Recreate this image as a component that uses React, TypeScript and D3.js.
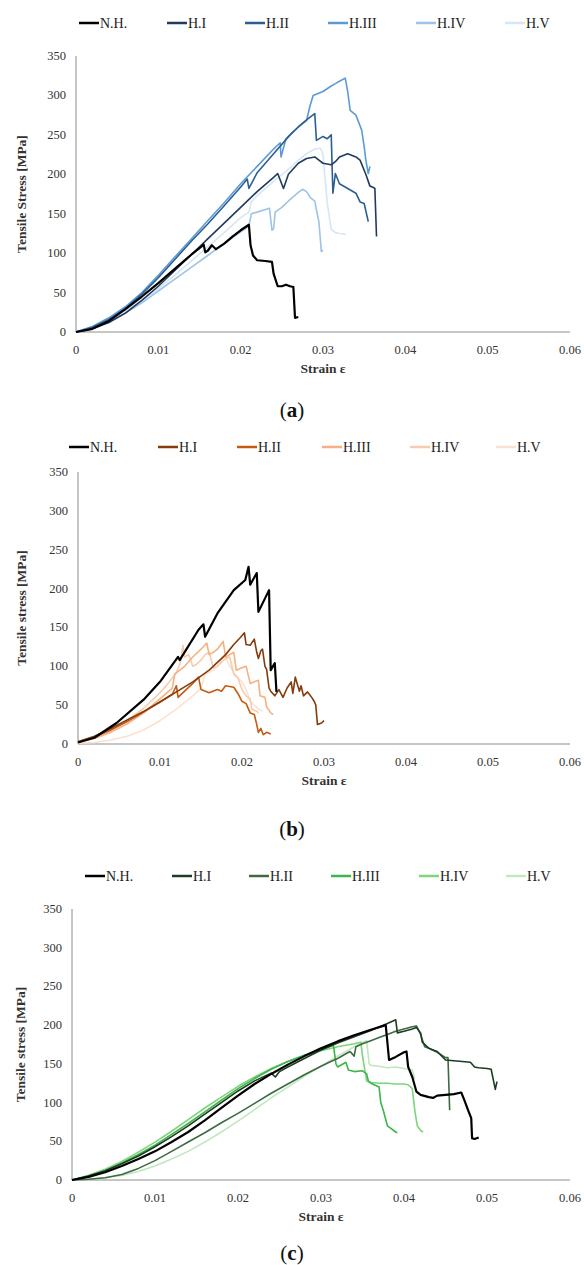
import React from 'react';
import * as d3 from 'd3';

type Pt = [number, number];

const seriesNames = ['N.H.', 'H.I', 'H.II', 'H.III', 'H.IV', 'H.V'];
const yTicks = [0, 50, 100, 150, 200, 250, 300, 350];
const xTicks = [0, 0.01, 0.02, 0.03, 0.04, 0.05, 0.06];
const xTickLabels = ['0', '0.01', '0.02', '0.03', '0.04', '0.05', '0.06'];

const blueColors = ['#000000', '#1f3b5e', '#2b5f94', '#5b9bd5', '#9dc3e6', '#d6e6f5'];
const brownColors = ['#000000', '#843c0c', '#c55a11', '#f4b183', '#f8cbad', '#fbe1d0'];
const greenColors = ['#000000', '#1d3d22', '#3c6b42', '#3cb54a', '#7cd47c', '#bfe8bf'];

// (a) strain, stress
const aNH: Pt[] = [[0,0],[0.002,4],[0.004,14],[0.006,29],[0.008,45],[0.010,62],[0.012,80],[0.014,98],[0.0153,109],[0.0155,111],[0.0157,101],[0.016,103],[0.0165,110],[0.017,105],[0.018,112],[0.019,121],[0.020,129],[0.021,136],[0.0212,110],[0.0215,97],[0.022,91],[0.023,90],[0.0238,89],[0.024,74],[0.0245,58],[0.025,58],[0.0255,60],[0.026,58],[0.0264,57],[0.0266,18],[0.027,19]];
const aH1: Pt[] = [[0,0],[0.002,4],[0.004,12],[0.006,24],[0.008,40],[0.010,58],[0.012,78],[0.014,98],[0.016,118],[0.018,138],[0.020,158],[0.022,178],[0.024,196],[0.0245,201],[0.0252,182],[0.0258,200],[0.027,214],[0.028,220],[0.029,222],[0.0295,218],[0.030,214],[0.031,212],[0.0315,216],[0.032,222],[0.033,226],[0.034,222],[0.0345,218],[0.0352,200],[0.0357,185],[0.036,184],[0.0363,182],[0.0365,121]];
const aH2: Pt[] = [[0,0],[0.002,6],[0.004,16],[0.006,30],[0.008,48],[0.010,69],[0.012,92],[0.014,115],[0.016,137],[0.018,160],[0.020,184],[0.0208,194],[0.021,182],[0.0215,192],[0.022,202],[0.024,226],[0.026,250],[0.027,260],[0.028,269],[0.029,277],[0.0292,243],[0.030,248],[0.0305,245],[0.031,250],[0.0312,176],[0.0315,201],[0.032,188],[0.033,182],[0.034,176],[0.0345,165],[0.035,163],[0.0355,140]];
const aH3: Pt[] = [[0,0],[0.002,7],[0.004,18],[0.006,32],[0.008,50],[0.010,72],[0.012,95],[0.014,118],[0.016,141],[0.018,164],[0.020,188],[0.022,210],[0.024,232],[0.0248,240],[0.0249,222],[0.0255,245],[0.026,250],[0.027,260],[0.028,268],[0.0284,286],[0.0288,300],[0.030,305],[0.031,312],[0.0315,315],[0.032,318],[0.0327,322],[0.033,305],[0.0333,281],[0.034,275],[0.0347,256],[0.035,235],[0.0352,218],[0.0355,201],[0.0357,210]];
const aH4: Pt[] = [[0,0],[0.002,5],[0.004,13],[0.006,24],[0.008,37],[0.010,52],[0.012,67],[0.014,82],[0.016,97],[0.018,112],[0.020,127],[0.021,134],[0.0213,150],[0.022,152],[0.0235,157],[0.0238,129],[0.024,131],[0.0242,152],[0.025,158],[0.026,168],[0.027,177],[0.0275,181],[0.028,178],[0.0285,170],[0.029,166],[0.0292,155],[0.0295,140],[0.0298,102],[0.030,104]];
const aH5: Pt[] = [[0,0],[0.002,7],[0.004,16],[0.006,27],[0.008,40],[0.010,55],[0.012,72],[0.014,90],[0.016,108],[0.018,126],[0.020,145],[0.021,152],[0.0213,165],[0.022,173],[0.024,191],[0.026,208],[0.027,218],[0.028,226],[0.029,232],[0.0297,233],[0.030,225],[0.0302,200],[0.0305,165],[0.031,130],[0.0315,126],[0.032,125],[0.0328,124]];

// (b)
const bNH: Pt[] = [[0,2],[0.002,8],[0.0047,27],[0.008,57],[0.010,80],[0.0122,112],[0.0124,108],[0.0147,147],[0.0153,154],[0.0155,138],[0.017,168],[0.019,198],[0.0204,211],[0.0208,228],[0.021,205],[0.0218,220],[0.022,170],[0.0233,198],[0.0235,95],[0.024,104],[0.0242,67]];
const bH1: Pt[] = [[0,3],[0.002,10],[0.004,20],[0.006,31],[0.008,42],[0.010,54],[0.012,67],[0.014,80],[0.016,95],[0.018,115],[0.019,128],[0.0198,137],[0.0203,143],[0.0205,128],[0.021,127],[0.0215,135],[0.0218,118],[0.022,110],[0.0223,120],[0.0225,122],[0.0228,100],[0.023,96],[0.0233,72],[0.0235,68],[0.024,62],[0.0245,70],[0.025,60],[0.0255,72],[0.026,80],[0.0262,65],[0.0265,86],[0.027,68],[0.0272,75],[0.0275,62],[0.028,67],[0.0285,60],[0.0288,55],[0.029,50],[0.0292,25],[0.0297,27],[0.030,30]];
const bH2: Pt[] = [[0,3],[0.002,9],[0.004,18],[0.006,29],[0.008,41],[0.010,54],[0.0115,64],[0.012,75],[0.0122,60],[0.013,68],[0.014,78],[0.0147,86],[0.015,70],[0.016,66],[0.017,70],[0.0175,68],[0.018,75],[0.019,73],[0.0195,65],[0.020,55],[0.0205,52],[0.021,40],[0.0215,38],[0.0218,25],[0.022,15],[0.0223,20],[0.0226,12],[0.023,15],[0.0235,13]];
const bH3: Pt[] = [[0,3],[0.002,7],[0.004,15],[0.006,26],[0.008,40],[0.010,58],[0.0115,72],[0.0118,90],[0.013,100],[0.014,112],[0.015,122],[0.0157,130],[0.016,115],[0.0165,118],[0.017,122],[0.0177,132],[0.018,112],[0.0185,115],[0.019,118],[0.0193,95],[0.020,98],[0.0205,100],[0.021,78],[0.0215,80],[0.022,82],[0.0222,62],[0.0228,60],[0.023,48],[0.0235,40],[0.0238,38]];
const bH4: Pt[] = [[0,3],[0.002,8],[0.004,17],[0.006,30],[0.008,46],[0.010,66],[0.011,78],[0.012,92],[0.0125,105],[0.0128,127],[0.013,112],[0.0135,115],[0.014,100],[0.0145,103],[0.015,108],[0.0155,115],[0.016,118],[0.0165,98],[0.017,100],[0.018,110],[0.0185,112],[0.019,90],[0.0195,85],[0.020,70],[0.0205,62],[0.021,58],[0.0212,45],[0.0218,42],[0.022,40]];
const bH5: Pt[] = [[0,1],[0.002,2],[0.004,5],[0.006,10],[0.008,18],[0.010,30],[0.012,45],[0.014,62],[0.015,72],[0.0155,90],[0.016,92],[0.0165,95],[0.017,100],[0.0175,108],[0.018,112],[0.0185,100],[0.019,92],[0.0195,85],[0.020,80],[0.0205,70],[0.021,55],[0.0215,50],[0.022,45],[0.0225,42]];

// (c)
const cNH: Pt[] = [[0,0],[0.002,4],[0.004,10],[0.006,18],[0.008,27],[0.010,37],[0.012,49],[0.014,62],[0.016,77],[0.018,93],[0.020,109],[0.022,124],[0.024,137],[0.026,149],[0.028,160],[0.030,170],[0.032,179],[0.034,187],[0.036,194],[0.0378,200],[0.0382,155],[0.039,159],[0.040,165],[0.0403,166],[0.0405,146],[0.041,133],[0.0415,114],[0.042,110],[0.043,107],[0.0435,106],[0.044,109],[0.045,110],[0.046,111],[0.0469,113],[0.0472,105],[0.0478,88],[0.0481,80],[0.0482,54],[0.0485,53],[0.049,55]];
const cH1: Pt[] = [[0,0],[0.002,5],[0.004,12],[0.006,21],[0.008,31],[0.010,43],[0.012,56],[0.014,70],[0.016,85],[0.018,100],[0.020,115],[0.022,128],[0.024,138],[0.0245,133],[0.025,140],[0.026,146],[0.028,157],[0.030,168],[0.032,177],[0.034,185],[0.036,193],[0.038,202],[0.039,207],[0.0392,190],[0.040,192],[0.041,195],[0.0415,197],[0.042,190],[0.0422,178],[0.043,170],[0.0435,168],[0.044,166],[0.045,155],[0.046,154],[0.047,153],[0.048,152],[0.0485,146],[0.049,145],[0.050,144],[0.0505,143],[0.051,117],[0.0512,127]];
const cH2: Pt[] = [[0,0],[0.002,1],[0.004,3],[0.006,7],[0.008,15],[0.010,25],[0.012,37],[0.014,49],[0.016,61],[0.018,74],[0.020,86],[0.022,99],[0.024,112],[0.026,124],[0.028,136],[0.030,147],[0.031,152],[0.032,157],[0.033,163],[0.0335,166],[0.034,160],[0.0342,172],[0.035,176],[0.036,180],[0.037,184],[0.038,188],[0.039,192],[0.040,195],[0.041,198],[0.0415,199],[0.042,188],[0.0425,172],[0.043,170],[0.044,165],[0.045,158],[0.0453,158],[0.0455,90]];
const cH3: Pt[] = [[0,0],[0.002,5],[0.004,12],[0.006,22],[0.008,33],[0.010,45],[0.012,59],[0.014,73],[0.016,88],[0.018,103],[0.020,118],[0.022,131],[0.024,143],[0.026,153],[0.028,161],[0.030,168],[0.0315,174],[0.0318,150],[0.032,146],[0.033,152],[0.0333,142],[0.034,140],[0.035,141],[0.0355,137],[0.0357,128],[0.036,125],[0.037,120],[0.0372,100],[0.0375,90],[0.038,70],[0.0385,66],[0.039,62],[0.0392,61]];
const cH4: Pt[] = [[0,0],[0.002,6],[0.004,14],[0.006,24],[0.008,36],[0.010,49],[0.012,63],[0.014,78],[0.016,93],[0.018,107],[0.020,121],[0.022,133],[0.024,144],[0.026,153],[0.028,161],[0.030,167],[0.032,172],[0.034,176],[0.0348,178],[0.035,160],[0.0355,128],[0.036,126],[0.037,125],[0.038,125],[0.039,124],[0.040,124],[0.0405,123],[0.041,118],[0.0413,90],[0.0416,70],[0.042,64],[0.0423,62]];
const cH5: Pt[] = [[0,0],[0.002,1],[0.004,3],[0.006,6],[0.008,11],[0.010,18],[0.012,27],[0.014,37],[0.016,49],[0.018,62],[0.020,76],[0.022,91],[0.024,106],[0.026,120],[0.028,134],[0.030,147],[0.032,160],[0.034,172],[0.035,178],[0.0355,180],[0.0358,150],[0.036,148],[0.037,147],[0.038,145],[0.039,146],[0.040,144],[0.041,142],[0.0413,130]];

const font = '"Liberation Serif", "Times New Roman", "DejaVu Serif", serif';

type PanelProps = {
  series: Pt[][];
  colors: string[];
  left: number; right: number; top: number; bottom: number;
  legendY: number; legendX: number[];
  yTitle: string; yTitleX: number;
  captionY: number; letter: string;
};

function Panel(p: PanelProps) {
  const x = d3.scaleLinear().domain([0, 0.06]).range([p.left, p.right]);
  const y = d3.scaleLinear().domain([0, 350]).range([p.bottom, p.top]);
  const line = d3.line<Pt>().x(d => x(d[0])).y(d => y(d[1]));
  const midY = (p.top + p.bottom) / 2;
  // lightest first so the dark ones end up on top
  const order = [5, 4, 3, 2, 1, 0];
  return (
    <g fontFamily={font}>
      {seriesNames.map((name, i) => (
        <g key={name}>
          <line x1={p.legendX[i]} x2={p.legendX[i] + 20} y1={p.legendY} y2={p.legendY}
            stroke={p.colors[i]} strokeWidth={2.5} />
          <text x={p.legendX[i] + 21} y={p.legendY + 5} fontSize={14} fill="#222">{name}</text>
        </g>
      ))}
      <line x1={p.left} x2={p.left} y1={p.top} y2={p.bottom} stroke="#8c8c8c" strokeWidth={1} />
      <line x1={p.left} x2={p.right} y1={p.bottom} y2={p.bottom} stroke="#8c8c8c" strokeWidth={1} />
      {yTicks.map(t => (
        <text key={t} x={p.left - 10} y={y(t) + 4} textAnchor="end" fontSize={12.5} fill="#333">{t}</text>
      ))}
      {xTicks.map((t, i) => (
        <text key={t} x={x(t)} y={p.bottom + 22} textAnchor="middle" fontSize={12.5} fill="#333">{xTickLabels[i]}</text>
      ))}
      {order.map(i => (
        <path key={i} d={line(p.series[i]) || ''} fill="none" stroke={p.colors[i]}
          strokeWidth={i === 0 ? 2.2 : 1.6} strokeLinejoin="round" />
      ))}
      <text transform={`translate(${p.yTitleX},${midY}) rotate(-90)`} textAnchor="middle"
        fontSize={13.5} fontWeight="bold" fill="#333">{p.yTitle}</text>
      <text x={(p.left + p.right) / 2} y={p.bottom + 41} textAnchor="middle" fontSize={13.5}
        fontWeight="bold" fill="#333">Strain ε</text>
      <text x={292} y={p.captionY} textAnchor="middle" fontSize={21} fill="#111">
        (<tspan fontWeight="bold">{p.letter}</tspan>)
      </text>
    </g>
  );
}

export default function App() {
  return (
    <svg width={584} height={1265} viewBox="0 0 584 1265"
      style={{ position: 'absolute', left: 0, top: 0, display: 'block' }}>
      <rect x={0} y={0} width={584} height={1265} fill="#fff" />
      <Panel series={[aNH, aH1, aH2, aH3, aH4, aH5]} colors={blueColors}
        left={76} right={570} top={56} bottom={332}
        legendY={23} legendX={[79, 167, 245, 328, 416, 505]}
        yTitle="Tensile Stress [MPa]" yTitleX={26} captionY={417} letter="a" />
      <Panel series={[bNH, bH1, bH2, bH3, bH4, bH5]} colors={brownColors}
        left={78} right={570} top={472} bottom={744}
        legendY={447} legendX={[69, 158, 237, 322, 410, 496]}
        yTitle="Tensile stress [MPa]" yTitleX={26} captionY={836} letter="b" />
      <Panel series={[cNH, cH1, cH2, cH3, cH4, cH5]} colors={greenColors}
        left={72} right={570} top={909} bottom={1180}
        legendY={876} legendX={[85, 172, 249, 331, 419, 506]}
        yTitle="Tensile stress [MPa]" yTitleX={25} captionY={1260} letter="c" />
    </svg>
  );
}
